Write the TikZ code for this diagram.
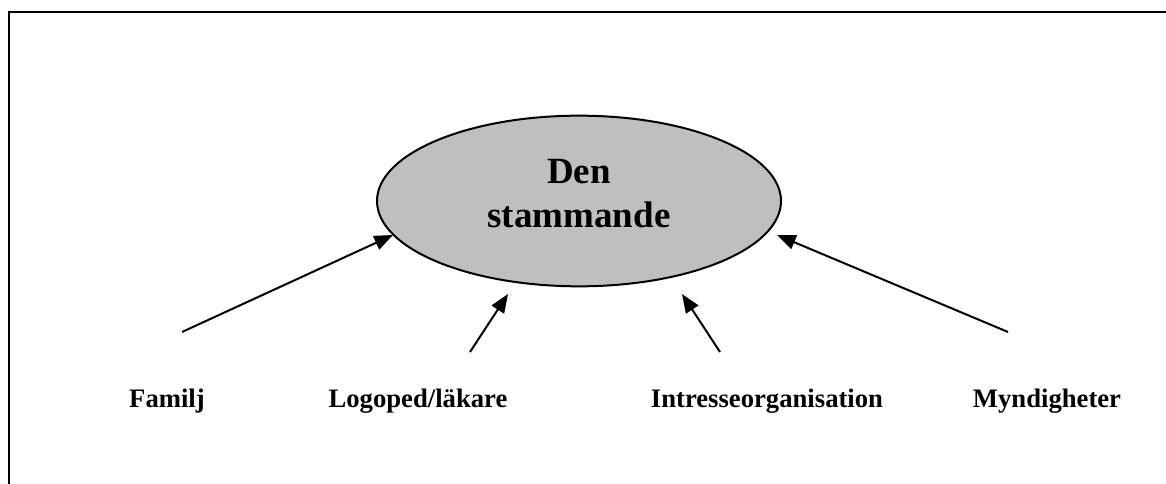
\documentclass[tikz,border=0pt]{standalone}
\usepackage{fontspec}
\setmainfont{Liberation Serif}
\usetikzlibrary{arrows.meta}
\usetikzlibrary{shapes.geometric}

\tikzset{
  actor/.style={anchor=base, font=\bfseries\fontsize{20}{24}\selectfont},
  push/.style={line width=1.5pt, -{Triangle[length=14pt, width=11pt]}},
}

\begin{document}
\begin{tikzpicture}[x=0.75pt, y=-0.75pt]
  \useasboundingbox (0, 0) rectangle (1166, 484);
  \draw [line width=2pt] (9, 484) -- (9, 12) -- (1166, 12);

  \node [ellipse, draw, line width=1.5pt, fill=black!25, inner sep=0pt,
         minimum width=303pt, minimum height=128pt]
    (person) at (579, 201) {};
  \node [align=center, font=\bfseries\fontsize{27.75}{33}\selectfont]
    (person-name) at (579, 194) {Den\\stammande};

  \node [actor] (familj) at (167, 407) {Familj};
  \node [actor] (logoped) at (418, 407) {Logoped/läkare};
  \node [actor] (intresse) at (767, 407) {Intresseorganisation};
  \node [actor] (myndig) at (1047, 407) {Myndigheter};

  % arrows stop just short of the ellipse
  \coordinate (familj-s) at (182, 332);
  \coordinate (familj-t) at (393, 235);
  \coordinate (logoped-s) at (470, 352);
  \coordinate (logoped-t) at (508, 294);
  \coordinate (intresse-s) at (720, 352);
  \coordinate (intresse-t) at (682, 294);
  \coordinate (myndig-s) at (1008, 332);
  \coordinate (myndig-t) at (777, 235);

  \draw [push] (familj-s) -- (familj-t);
  \draw [push] (logoped-s) -- (logoped-t);
  \draw [push] (intresse-s) -- (intresse-t);
  \draw [push] (myndig-s) -- (myndig-t);
\end{tikzpicture}
\end{document}
